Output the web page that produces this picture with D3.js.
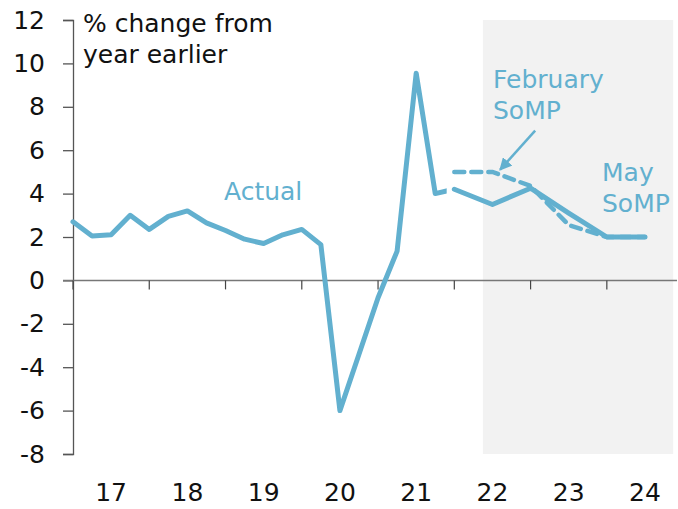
<html>
<head>
<meta charset="utf-8">
<script src="https://d3js.org/d3.v7.min.js"></script>
<style>
body{margin:0;background:#fff}
svg{display:block}
text{font-family:"Century Gothic","URW Gothic","DejaVu Sans",sans-serif;font-size:25px}
</style>
</head>
<body>
<script>
var blue = "#62b0cf";
var width = 678, height = 509;

// quarter-end dates as decimal years (Dec-16 quarter sits at 2017.0)
var actualDates = [2017.0, 2017.25, 2017.5, 2017.75, 2018.0, 2018.25, 2018.5, 2018.75,
                   2019.0, 2019.25, 2019.5, 2019.75, 2020.0, 2020.25, 2020.5, 2020.75,
                   2021.0, 2021.25, 2021.5, 2021.75, 2022.0];
var actualValues = [2.7, 2.05, 2.1, 3.0, 2.35, 2.95, 3.2, 2.65,
                    2.3, 1.9, 1.7, 2.1, 2.35, 1.65, -6.0, -3.4,
                    -0.8, 1.35, 9.55, 4.0, 4.2];
var forecastDates = [2022.0, 2022.5, 2023.0, 2023.5, 2024.0, 2024.5];
var mayValues = [4.2, 3.5, 4.25, 3.1, 2.0, 2.0];
var febValues = [5.0, 5.0, 4.35, 2.55, 2.0, 2.0];
var yTicks = [-8, -6, -4, -2, 0, 2, 4, 6, 8, 10, 12];
var years = [2017, 2018, 2019, 2020, 2021, 2022, 2023, 2024];
var yearLabels = ["17", "18", "19", "20", "21", "22", "23", "24"];
var forecastPeriod = [2022.375, 2024.87];

var x = d3.scaleLinear().domain([2017, 2024.92]).range([73, 677]);
var y = d3.scaleLinear().domain([-8, 12]).range([454, 20]);

var svg = d3.select("body").append("svg")
    .attr("width", width)
    .attr("height", height);

// shaded forecast period
svg.append("rect")
   .attr("x", x(forecastPeriod[0]))
   .attr("y", y(12))
   .attr("width", x(forecastPeriod[1]) - x(forecastPeriod[0]))
   .attr("height", y(-8) - y(12))
   .attr("fill", "#f2f2f2");

// y axis
var yAxis = d3.axisLeft(y)
    .tickValues(yTicks)
    .tickFormat(function(d){ return String(d); })
    .tickSize(10)
    .tickPadding(18);
var gy = svg.append("g")
   .attr("transform", "translate(73,0)")
   .call(yAxis);
gy.select(".domain").attr("stroke", "#555").attr("stroke-width", 1.3);
gy.selectAll(".tick line").attr("stroke", "#555").attr("stroke-width", 1.3);
gy.selectAll(".tick text")
   .attr("fill", "#111")
   .style("font-size", "25px")
   .style("font-family", null);

// zero line with year ticks
svg.append("line")
   .attr("x1", 63).attr("x2", x.range()[1])
   .attr("y1", y(0)).attr("y2", y(0))
   .attr("stroke", "#777").attr("stroke-width", 1.5);
svg.selectAll(".ytick")
   .data(years)
   .enter()
   .append("line")
   .attr("class", "ytick")
   .attr("x1", function(d){ return x(d); })
   .attr("x2", function(d){ return x(d); })
   .attr("y1", y(0))
   .attr("y2", y(0) + 9)
   .attr("stroke", "#444")
   .attr("stroke-width", 1.2);

// year labels along the bottom
svg.selectAll(".ylabel")
   .data(years)
   .enter()
   .append("text")
   .attr("class", "ylabel")
   .attr("x", function(d){ return x(d + 0.5); })
   .attr("y", 501)
   .attr("text-anchor", "middle")
   .attr("fill", "#111")
   .text(function(d, i){ return yearLabels[i]; });

// lines
var line = d3.line()
    .x(function(d){ return x(d[0]); })
    .y(function(d){ return y(d[1]); });

svg.append("clipPath").attr("id", "actualClip")
   .append("rect")
   .attr("x", 0).attr("y", 0)
   .attr("width", x(2021.9)).attr("height", height);

svg.append("path")
   .datum(d3.zip(actualDates, actualValues))
   .attr("d", line)
   .attr("clip-path", "url(#actualClip)")
   .attr("fill", "none")
   .attr("stroke", blue)
   .attr("stroke-width", 5)
   .attr("stroke-linejoin", "round")
   .attr("stroke-linecap", "round");

svg.append("path")
   .datum(d3.zip(forecastDates, mayValues))
   .attr("d", line)
   .attr("fill", "none")
   .attr("stroke", blue)
   .attr("stroke-width", 5)
   .attr("stroke-linejoin", "round")
   .attr("stroke-linecap", "round");

svg.append("path")
   .datum(d3.zip(forecastDates, febValues))
   .attr("d", line)
   .attr("fill", "none")
   .attr("stroke", blue)
   .attr("stroke-width", 4.5)
   .attr("stroke-dasharray", "10,7")
   .attr("stroke-linecap", "round");

// arrow to the February line
svg.append("defs").append("marker")
   .attr("id", "head")
   .attr("viewBox", "0 0 10 10")
   .attr("refX", 9).attr("refY", 5)
   .attr("markerWidth", 5).attr("markerHeight", 5)
   .attr("orient", "auto")
   .append("path")
   .attr("d", "M0,0L10,5L0,10z")
   .attr("fill", blue);
svg.append("line")
   .attr("x1", x(2023.06)).attr("y1", y(6.9))
   .attr("x2", x(2022.6)).attr("y2", y(5.1))
   .attr("stroke", blue)
   .attr("stroke-width", 2.5)
   .attr("marker-end", "url(#head)");

// text labels
function label(lines, px, py, color){
  var t = svg.append("text").attr("fill", color);
  lines.forEach(function(s, i){
    t.append("tspan").attr("x", px).attr("y", py + i * 31).text(s);
  });
}
label(["% change from", "year earlier"], 83, 32, "#111");
label(["Actual"], 224, 200, blue);
label(["February", "SoMP"], 493, 88, blue);
label(["May", "SoMP"], 602, 181, blue);
</script>
</body>
</html>
